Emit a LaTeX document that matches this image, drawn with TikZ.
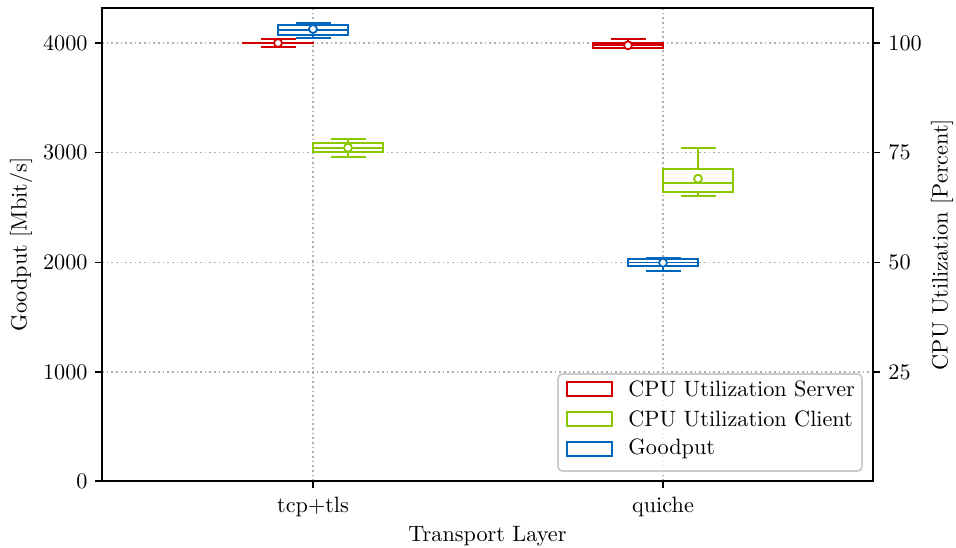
\documentclass[tikz,border=0pt]{standalone}
\usepackage{xcolor}
\definecolor{srvred}{RGB}{210,0,0}
\definecolor{clilime}{RGB}{140,200,0}
\definecolor{gpblue}{RGB}{0,101,189}
\definecolor{gridgray}{RGB}{176,176,176}
\tikzset{
  spine/.style={line width=1pt, black, line cap=rect},
  tickmark/.style={line width=0.8pt, black},
  gridline/.style={gridgray, line width=0.8pt, dash pattern=on 0.8pt off 1.3pt},
  boxline/.style={line width=0.8pt},
  meanmark/.style={circle, fill=white, line width=0.8pt, minimum size=3.6pt, inner sep=0pt},
  ticklabel/.style={inner sep=0pt, font=\fontsize{10}{12}\selectfont},
  axislabel/.style={inner sep=0pt, font=\fontsize{10}{12}\selectfont},
  legendpatch/.style={fill=white, line width=1pt},
  legendtext/.style={anchor=west, inner sep=0pt, font=\fontsize{10}{12}\selectfont}
}
% one box: #1 x centre (px), #2 lower whisker, #3 q1, #4 median, #5 q3,
% #6 upper whisker, #7 mean, #8 colour, #9 name of the mean marker
\newcommand{\bxplot}[9]{%
  \draw[boxline,draw=#8] (#1-35,#3) rectangle (#1+35,#5);
  \draw[boxline,draw=#8] (#1-35,#4) -- (#1+35,#4);
  \draw[boxline,draw=#8] (#1,#3) -- (#1,#2) (#1-17.5,#2) -- (#1+17.5,#2);
  \draw[boxline,draw=#8] (#1,#5) -- (#1,#6) (#1-17.5,#6) -- (#1+17.5,#6);
  \node[meanmark,draw=#8] (#9) at (#1,#7) {};
}
\begin{document}
\begin{tikzpicture}[x=0.45pt, y=-0.45pt]
\useasboundingbox (0,0) rectangle (956,547);

% grid (behind the data)
\foreach \gy in {43.0,152.5,262.5,372.0}
  \draw[gridline] (102,\gy) -- (873,\gy);
\foreach \gx in {313,663}
  \draw[gridline] (\gx,8) -- (\gx,481);

% data region: x in px, y in Mbit/s
\begin{scope}[shift={(0,481)}]
\begin{scope}[y=0.049275pt]
  % tcp+tls
  \bxplot{278}{3963}{3999}{4000}{4001}{4037}{4000}{srvred}{mtcpsrv}
  \bxplot{313}{4046}{4073}{4119}{4164}{4183}{4128}{gpblue}{mtcpgp}
  \bxplot{348}{2959}{3002}{3044}{3084}{3121}{3044}{clilime}{mtcpcli}
  % quiche
  \bxplot{628}{3950}{3955}{3985}{3997}{4037}{3979}{srvred}{mqsrv}
  \bxplot{698}{2603}{2642}{2721}{2847}{3044}{2761}{clilime}{mqcli}
  \bxplot{663}{1921}{1966}{1995}{2025}{2039}{1994}{gpblue}{mqgp}
\end{scope}
\end{scope}

% frame
\draw[spine] (102,8) rectangle (873,481);

% left ticks and labels
\foreach \gy/\lab in {481/0,372/1000,262.5/2000,152.5/3000,43/4000}{
  \draw[tickmark] (95,\gy) -- (102,\gy);
  \node[ticklabel, anchor=east] (yl\lab) at (88,\gy) {\lab};
}
% right ticks and labels
\foreach \gy/\lab in {372/25,262.5/50,152.5/75,43/100}{
  \draw[tickmark] (873,\gy) -- (880,\gy);
  \node[ticklabel, anchor=west] (yr\lab) at (888,\gy) {\lab};
}
% bottom ticks and labels
\draw[tickmark] (313,481) -- (313,488);
\draw[tickmark] (663,481) -- (663,488);
\node[ticklabel, anchor=base] (xtcp) at (313,512) {tcp+tls};
\node[ticklabel, anchor=base] (xquiche) at (663,512) {quiche};

% axis titles
\node[axislabel, anchor=base] (xtitle) at (487.5,541) {Transport Layer};
\node[axislabel, rotate=90] (ytitle) at (21,244.5) {Goodput [Mbit/s]};
\node[axislabel, rotate=90] (y2title) at (942,244.5) {CPU Utilization [Percent]};

% legend
\draw[fill=white, fill opacity=0.8, draw=gray!40, line width=0.8pt, rounded corners=2pt]
  (558,374) rectangle (862,471);
\draw[legendpatch, draw=srvred] (567,382) rectangle (612,396);
\draw[legendpatch, draw=clilime] (567,412) rectangle (612,426);
\draw[legendpatch, draw=gpblue] (567,442) rectangle (612,456);
\node[legendtext] (lsrv) at (628,389) {CPU Utilization Server};
\node[legendtext] (lcli) at (628,419) {CPU Utilization Client};
\node[legendtext] (lgp) at (628,449) {Goodput};
\end{tikzpicture}
\end{document}
